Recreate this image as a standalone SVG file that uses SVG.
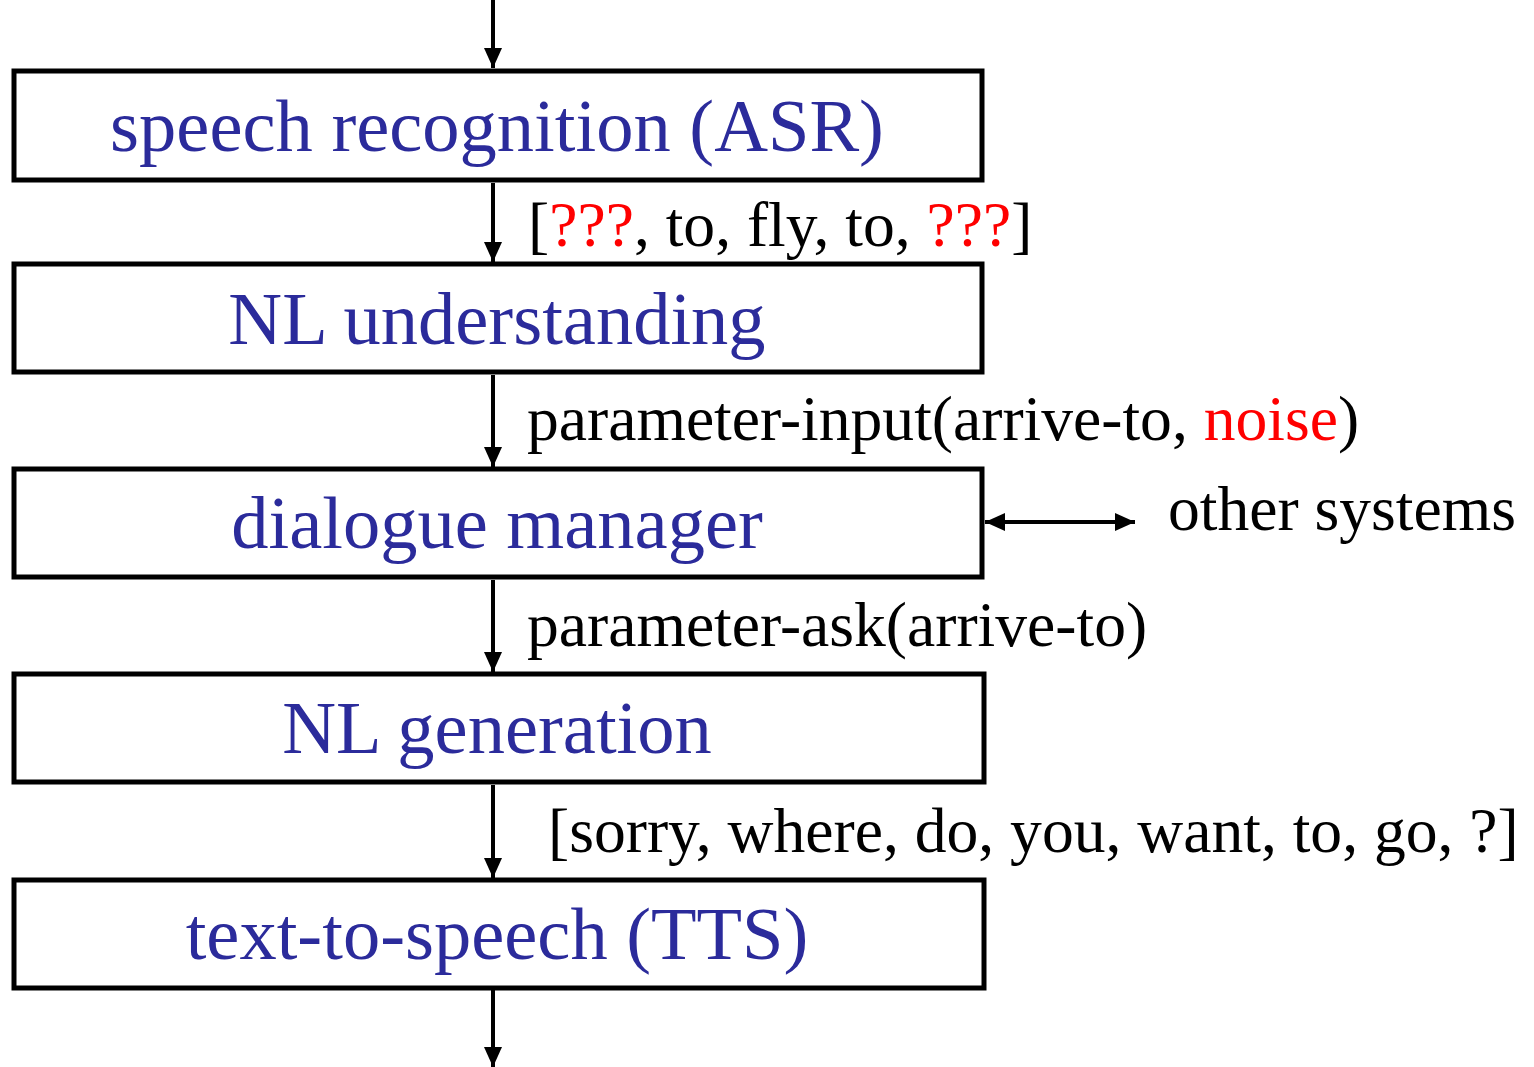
<svg xmlns="http://www.w3.org/2000/svg" width="1534" height="1067" viewBox="0 0 1534 1067">
<style>
.box{fill:#fff;stroke:#000;stroke-width:5}
.bt{font-family:"Liberation Serif",serif;font-size:74.5px;fill:#2b2b9b;text-anchor:middle}
.lb{font-family:"Liberation Serif",serif;font-size:63.6px;fill:#000}
.red{fill:#ff0000}
.ln{stroke:#000;stroke-width:4;fill:none}
</style>
<defs>
<marker id="ah" markerUnits="userSpaceOnUse" markerWidth="20" markerHeight="18" refX="20" refY="9" orient="auto-start-reverse" viewBox="0 0 20 18">
<path d="M0,0 L20,9 L0,18 z" fill="#000"/>
</marker>
</defs>
<g id="connectors">
<line class="ln" x1="493" y1="0" x2="493" y2="68" marker-end="url(#ah)"/>
<line class="ln" x1="493" y1="183" x2="493" y2="262" marker-end="url(#ah)"/>
<line class="ln" x1="493" y1="375" x2="493" y2="467" marker-end="url(#ah)"/>
<line class="ln" x1="493" y1="580" x2="493" y2="672" marker-end="url(#ah)"/>
<line class="ln" x1="493" y1="785" x2="493" y2="878" marker-end="url(#ah)"/>
<line class="ln" x1="493" y1="990" x2="493" y2="1067" marker-end="url(#ah)"/>
<line class="ln" x1="985" y1="522" x2="1135" y2="522" marker-start="url(#ah)" marker-end="url(#ah)"/>
<text class="lb" x="528" y="246">[<tspan class="red">???</tspan>, to, fly, to, <tspan class="red">???</tspan>]</text>
<text class="lb" x="527" y="440">parameter-input(arrive-to, <tspan class="red">noise</tspan>)</text>
<text class="lb" x="527" y="646">parameter-ask(arrive-to)</text>
<text class="lb" x="548" y="852">[sorry, where, do, you, want, to, go, ?]</text>
</g>
<g id="asr"><rect class="box" x="14" y="71" width="968" height="109"/><text class="bt" x="497" y="151">speech recognition (ASR)</text></g>
<g id="nlu"><rect class="box" x="14" y="264" width="968" height="108"/><text class="bt" x="497" y="344">NL understanding</text></g>
<g id="dm"><rect class="box" x="14" y="469" width="968" height="108"/><text class="bt" x="497" y="548">dialogue manager</text></g>
<g id="nlg"><rect class="box" x="14" y="674" width="970" height="108"/><text class="bt" x="497" y="753">NL generation</text></g>
<g id="tts"><rect class="box" x="14" y="880" width="970" height="108"/><text class="bt" x="497" y="959">text-to-speech (TTS)</text></g>
<g id="other"><text class="lb" x="1168" y="530">other systems</text></g>
</svg>
